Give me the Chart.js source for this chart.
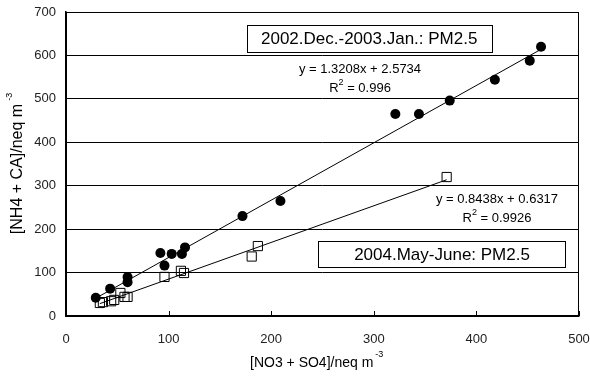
<!DOCTYPE html>
<html>
<head>
<meta charset="utf-8">
<script src="https://cdn.jsdelivr.net/npm/chart.js@4"></script>
<style>
html,body{margin:0;padding:0;background:#fff;}
#wrap{width:590px;height:380px;position:relative;}
</style>
</head>
<body>
<div id="wrap"><canvas id="c" width="590" height="380"></canvas></div>
<script>
// ---- data ----
const winterX = [29, 43, 60, 60, 92, 96, 103, 113, 116, 172, 209, 321, 344, 374, 418, 452, 463];
const winterY = [42, 63, 78, 90, 145, 116, 143, 143, 158, 230, 265, 465, 465, 496, 544, 588, 620];
const summerX = [33, 36, 44, 47, 53, 57, 60, 96, 112, 115, 181, 187, 371];
const summerY = [30, 32, 34, 37, 53, 44, 44, 90, 104, 99, 137, 161, 320];
const winterFit = [1.3208, 2.5734];   // slope, intercept
const summerFit = [0.8438, 0.6317];
const xTicks = [0, 100, 200, 300, 400, 500];
const yTicks = [0, 100, 200, 300, 400, 500, 600, 700];
const labels = {
  winterBox: "2002.Dec.-2003.Jan.: PM2.5",
  summerBox: "2004.May-June: PM2.5",
  winterEq: "y = 1.3208x + 2.5734",
  winterR2: "0.996",
  summerEq: "y = 0.8438x + 0.6317",
  summerR2: "0.9926",
  xTitle: "[NO3 + SO4]/neq m",
  yTitle: "[NH4 + CA]/neq m"
};

function pts(xs, ys){ return xs.map((x,i)=>({x:x, y:ys[i]})); }
function fitLine(xs, fit){
  const mn = Math.min(...xs), mx = Math.max(...xs);
  return [{x:mn, y:fit[0]*mn+fit[1]}, {x:mx, y:fit[0]*mx+fit[1]}];
}

const FONT = "'Liberation Sans', Arial, sans-serif";

const deco = {
  id: 'deco',
  afterDraw(chart){
    const ctx = chart.ctx, a = chart.chartArea;
    const xs = chart.scales.x, ys = chart.scales.y;
    ctx.save();
    // plot frame
    ctx.strokeStyle = '#000'; ctx.lineWidth = 1;
    ctx.strokeRect(Math.round(a.left)+0.5, Math.round(a.top)+0.5, Math.round(a.right-a.left)-1, Math.round(a.bottom-a.top));
    // inside x ticks
    xTicks.forEach(v=>{
      const px = Math.round(xs.getPixelForValue(v))+0.5;
      ctx.beginPath(); ctx.moveTo(px, a.bottom); ctx.lineTo(px, a.bottom-5); ctx.stroke();
    });
    // text boxes
    function box(text, x1, y1, x2, y2){
      const l = xs.getPixelForValue(x1), r = xs.getPixelForValue(x2);
      const t = ys.getPixelForValue(y1), b = ys.getPixelForValue(y2);
      ctx.fillStyle = '#fff';
      ctx.fillRect(l, t, r-l, b-t);
      ctx.strokeStyle = '#000';
      ctx.strokeRect(Math.round(l)+0.5, Math.round(t)+0.5, Math.round(r-l), Math.round(b-t));
      ctx.fillStyle = '#000';
      ctx.font = '17px ' + FONT;
      ctx.textAlign = 'center'; ctx.textBaseline = 'middle';
      ctx.fillText(text, (l+r)/2, (t+b)/2+1);
    }
    box(labels.winterBox, 176, 670, 415, 608);
    box(labels.summerBox, 246, 172, 487, 113);
    // equations
    function eq(line1, r2, cx, cy){
      ctx.fillStyle = '#000';
      ctx.font = '13px ' + FONT;
      ctx.textAlign = 'center'; ctx.textBaseline = 'middle';
      ctx.fillText(line1, cx, cy);
      const main = ' = ' + r2;
      ctx.font = '13px ' + FONT;
      const wR = ctx.measureText('R').width, wM = ctx.measureText(main).width;
      ctx.font = '9px ' + FONT;
      const w2 = ctx.measureText('2').width;
      const total = wR + w2 + wM;
      let x = cx - total/2;
      ctx.textAlign = 'left';
      ctx.font = '13px ' + FONT;
      ctx.fillText('R', x, cy+19); x += wR;
      ctx.font = '9px ' + FONT;
      ctx.fillText('2', x, cy+14); x += w2;
      ctx.font = '13px ' + FONT;
      ctx.fillText(main, x, cy+19);
    }
    eq(labels.winterEq, labels.winterR2, 360, 69);
    eq(labels.summerEq, labels.summerR2, 497, 199);
    // axis titles
    ctx.fillStyle = '#000';
    ctx.font = '14px ' + FONT;
    ctx.textAlign = 'left'; ctx.textBaseline = 'middle';
    let w = ctx.measureText(labels.xTitle).width;
    let x0 = 250;
    ctx.fillText(labels.xTitle, x0, 363);
    ctx.font = '9px ' + FONT;
    ctx.fillText('-3', x0 + w + 2, 355);
    // y title rotated
    ctx.save();
    ctx.translate(18, 169);
    ctx.rotate(-Math.PI/2);
    ctx.font = '16px ' + FONT;
    w = ctx.measureText(labels.yTitle).width;
    x0 = -w/2;
    ctx.fillText(labels.yTitle, x0, 0);
    ctx.font = '9px ' + FONT;
    ctx.fillText('-3', x0 + w + 3, -8);
    ctx.restore();
    ctx.restore();
  }
};

new Chart(document.getElementById('c'), {
  type: 'scatter',
  data: {
    datasets: [
      { type:'line', data: fitLine(winterX, winterFit), borderColor:'#000', borderWidth:1, pointRadius:0, fill:false },
      { type:'line', data: fitLine(summerX, summerFit), borderColor:'#000', borderWidth:1, pointRadius:0, fill:false },
      { data: pts(winterX, winterY), pointStyle:'circle', pointRadius:5, backgroundColor:'#000', borderColor:'#000', borderWidth:0 },
      { data: pts(summerX, summerY), pointStyle:'rect', pointRadius:6.5, backgroundColor:'rgba(255,255,255,0)', borderColor:'#000', borderWidth:1 }
    ]
  },
  options: {
    responsive:false, animation:false, devicePixelRatio:1,
    layout:{ padding:{ top:12, right:11, left:0, bottom:0 } },
    plugins:{ legend:{display:false}, tooltip:{enabled:false} },
    scales:{
      x:{ type:'linear', min:0, max:500,
          afterBuildTicks(s){ s.ticks = xTicks.map(v=>({value:v})); },
          afterFit(s){ s.height = 64; },
          grid:{ drawOnChartArea:false, drawTicks:true, tickLength:16, tickColor:'rgba(0,0,0,0)' },
          border:{ display:true, color:'#000', width:1.5 },
          ticks:{ padding:0, color:'#222', font:{ family:FONT, size:13 } } },
      y:{ type:'linear', min:0, max:700,
          afterBuildTicks(s){ s.ticks = yTicks.map(v=>({value:v})); },
          afterFit(s){ s.width = 66; },
          grid:{ color:'#000', lineWidth:1, drawTicks:true, tickLength:10, tickColor:'rgba(0,0,0,0)' },
          border:{ display:true, color:'#000', width:1.5 },
          ticks:{ padding:0, color:'#222', font:{ family:FONT, size:13 } } }
    }
  },
  plugins:[deco]
});
</script>
</body>
</html>
